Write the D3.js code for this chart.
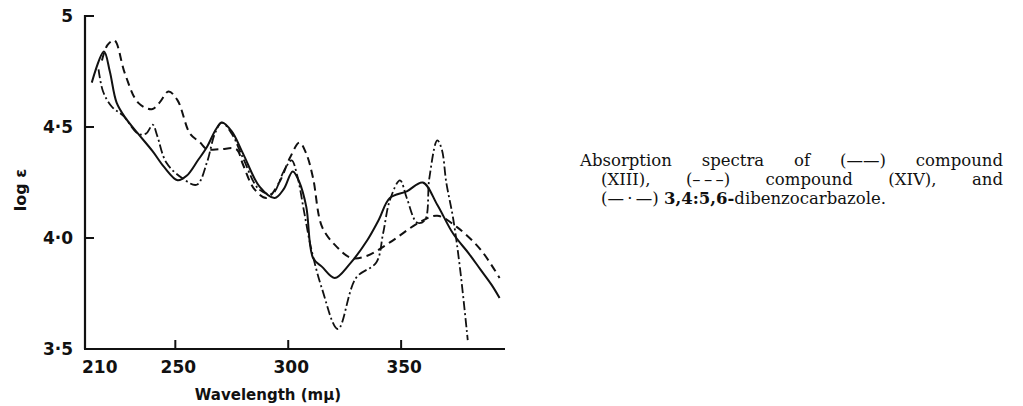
<!DOCTYPE html>
<html>
<head>
<meta charset="utf-8">
<script src="https://cdn.jsdelivr.net/npm/d3@7"></script>
<style>
  body { margin: 0; background: #fff; }
  .tick-label { font-family: "DejaVu Sans", sans-serif; font-weight: bold; font-size: 17px; fill: #111; }
  .caption { font-family: "DejaVu Serif", "Liberation Serif", serif; font-size: 16.5px; fill: #111; }
</style>
</head>
<body>
<script>
// Data (wavelength in mμ, log ε)
var xiiiWl  = [213, 218.4, 221, 224, 228, 233.5, 240, 245, 251, 255, 260, 264, 268, 270.6, 275, 280, 287.4, 294, 298, 302, 305, 308, 311, 315, 320.6, 327, 335, 340, 345, 352.5, 359.6, 366, 373, 380, 385, 390, 393.6];
var xiiiLog = [4.70, 4.84, 4.75, 4.61, 4.54, 4.47, 4.39, 4.32, 4.26, 4.28, 4.35, 4.41, 4.49, 4.52, 4.48, 4.38, 4.23, 4.18, 4.22, 4.30, 4.25, 4.14, 3.91, 3.87, 3.82, 3.88, 3.99, 4.08, 4.18, 4.21, 4.25, 4.15, 4.02, 3.93, 3.86, 3.79, 3.73];

var xivWl  = [217.5, 220, 223, 227.7, 233.5, 239.6, 243, 247, 251, 256.5, 261, 264, 270, 277, 280, 285, 290.5, 296, 300.7, 305, 308, 311, 315, 321.5, 328, 335, 345, 358, 366, 374.6, 385, 393.6];
var xivLog = [4.80, 4.87, 4.89, 4.74, 4.61, 4.58, 4.61, 4.66, 4.62, 4.47, 4.43, 4.40, 4.40, 4.40, 4.33, 4.22, 4.18, 4.25, 4.36, 4.43, 4.38, 4.27, 4.05, 3.96, 3.91, 3.92, 3.98, 4.07, 4.10, 4.05, 3.95, 3.82];

var dbcWl  = [216, 218, 222, 227, 233.5, 237, 240, 242, 246, 253, 259.5, 264, 267.5, 270.6, 275, 280, 287, 293, 298, 301.5, 304, 307, 310, 315, 322, 330, 339, 342, 345, 349.5, 352.5, 357, 360.5, 362.5, 366, 368, 370, 373, 376, 379.5];
var dbcLog = [4.76, 4.66, 4.59, 4.55, 4.47, 4.47, 4.51, 4.46, 4.34, 4.27, 4.24, 4.34, 4.47, 4.52, 4.47, 4.36, 4.22, 4.20, 4.30, 4.35, 4.28, 4.12, 3.96, 3.77, 3.59, 3.82, 3.89, 4.02, 4.17, 4.26, 4.18, 4.07, 4.08, 4.27, 4.44, 4.40, 4.25, 4.09, 3.87, 3.54];

var xTicks = [210, 250, 300, 350];
var yTicks = [5, 4.5, 4.0, 3.5];
var yTickLabels = ["5", "4·5", "4·0", "3·5"];

var width = 1023, height = 406;
var svg = d3.select("body").append("svg")
    .attr("width", width)
    .attr("height", height);

// SCALES
var x = d3.scaleLinear().domain([210, 396]).range([85, 505]);
var y = d3.scaleLinear().domain([3.5, 5]).range([349, 16]);

// Axes (drawn by hand in the original, ticks pointing inward)
var axisColor = "#111";
svg.append("line")
    .attr("x1", x(210)).attr("x2", x(210))
    .attr("y1", y(5) - 1).attr("y2", y(3.5))
    .attr("stroke", axisColor).attr("stroke-width", 2.2);
svg.append("line")
    .attr("x1", x(210) - 1).attr("x2", x(396))
    .attr("y1", y(3.5)).attr("y2", y(3.5))
    .attr("stroke", axisColor).attr("stroke-width", 2.2);

svg.selectAll(".ytick").data(yTicks.slice(0, 3)).enter()
    .append("line")
    .attr("x1", x(210)).attr("x2", x(210) + 9)
    .attr("y1", (d) => y(d)).attr("y2", (d) => y(d))
    .attr("stroke", axisColor).attr("stroke-width", 2);

svg.selectAll(".xtick").data(xTicks.slice(1)).enter()
    .append("line")
    .attr("x1", (d) => x(d)).attr("x2", (d) => x(d))
    .attr("y1", y(3.5)).attr("y2", y(3.5) - 9)
    .attr("stroke", axisColor).attr("stroke-width", 2);

svg.selectAll(".ylab").data(yTicks).enter()
    .append("text")
    .attr("class", "tick-label")
    .attr("x", x(210) - 12)
    .attr("y", (d) => y(d) + 6)
    .attr("text-anchor", "end")
    .text((d, i) => yTickLabels[i]);

svg.selectAll(".xlab").data(xTicks).enter()
    .append("text")
    .attr("class", "tick-label")
    .attr("x", (d, i) => i === 0 ? x(d) - 3 : x(d) + 3)
    .attr("y", y(3.5) + 24)
    .attr("text-anchor", (d, i) => i === 0 ? "start" : "middle")
    .text((d) => d);

// axis titles
svg.append("text")
    .attr("class", "tick-label")
    .attr("x", 268)
    .attr("y", 400)
    .attr("text-anchor", "middle")
    .style("font-size", "15px")
    .text("Wavelength (mμ)");

svg.append("text")
    .attr("class", "tick-label")
    .attr("transform", "translate(26, 190) rotate(-90)")
    .attr("text-anchor", "middle")
    .style("font-size", "16px")
    .text("log ε");

// CURVES
var line = d3.line()
    .x((d) => x(d[0]))
    .y((d) => y(d[1]))
    .curve(d3.curveCatmullRom.alpha(0.5));

function pairs(wl, v) { return wl.map((w, i) => [w, v[i]]); }

svg.append("path")
    .datum(pairs(xivWl, xivLog))
    .attr("d", line)
    .attr("fill", "none").attr("stroke", "#111")
    .attr("stroke-width", 2).attr("stroke-dasharray", "8,5");

svg.append("path")
    .datum(pairs(dbcWl, dbcLog))
    .attr("d", line)
    .attr("fill", "none").attr("stroke", "#111")
    .attr("stroke-width", 1.8).attr("stroke-dasharray", "9,3,2,3");

svg.append("path")
    .datum(pairs(xiiiWl, xiiiLog))
    .attr("d", line)
    .attr("fill", "none").attr("stroke", "#111")
    .attr("stroke-width", 2);

// CAPTION (justified lines: stretch word spacing to fill the width)
function justify(t, target) {
    var w = t.node().getComputedTextLength();
    var spaces = t.text().split(" ").length - 1;
    if (spaces > 0 && w < target) t.style("word-spacing", ((target - w) / spaces) + "px");
}
var c1 = svg.append("text").attr("class", "caption")
    .attr("x", 580).attr("y", 166)
    .text("Absorption spectra of (——) compound");
justify(c1, 423);
var c2 = svg.append("text").attr("class", "caption")
    .attr("x", 601).attr("y", 185)
    .text("(XIII), (–\u2009–\u2009–) compound (XIV), and");
justify(c2, 402);
var l3 = svg.append("text").attr("class", "caption")
    .attr("x", 601).attr("y", 204);
l3.append("tspan").text("(—\u2009·\u2009—) ");
l3.append("tspan").style("font-weight", "bold").text("3,4:5,6-");
l3.append("tspan").text("dibenzocarbazole.");
</script>
</body>
</html>
